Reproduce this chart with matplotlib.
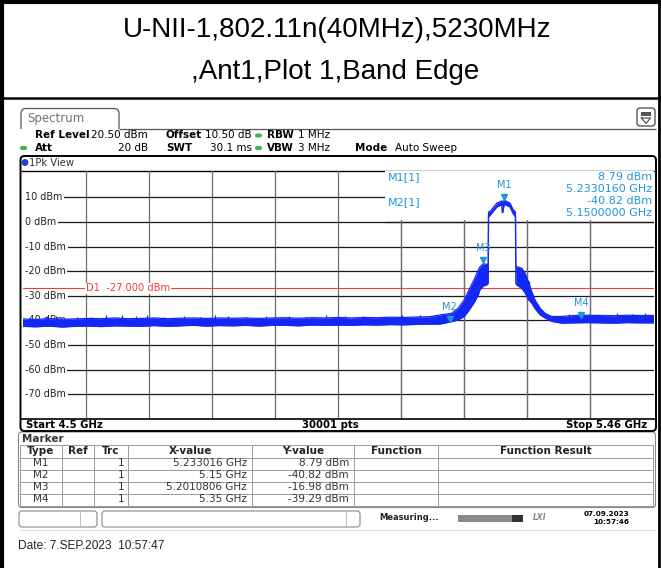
import matplotlib
matplotlib.use("Agg")
import matplotlib.pyplot as plt
from matplotlib.patches import Rectangle, FancyBboxPatch

W, H, DPI = 661, 568, 100

# ---- measurement settings -------------------------------------------------
title_lines = ["U-NII-1,802.11n(40MHz),5230MHz", ",Ant1,Plot 1,Band Edge"]
f_start, f_stop = 4.5, 5.46          # GHz
ref_level = 20.5                     # dBm (top of screen)
level_ticks = [10, 0, -10, -20, -30, -40, -50, -60, -70]
display_line = -27.0                 # D1 limit, dBm

# ---- trace envelope (max-hold peak band), GHz / dBm -----------------------
trace_freq = [4.500, 4.520, 4.540, 4.560, 4.580, 4.600, 4.620, 4.640, 4.660,
              4.680, 4.700, 4.720, 4.740, 4.760, 4.780, 4.800, 4.820, 4.840,
              4.860, 4.880, 4.900, 4.920, 4.940, 4.960, 4.980, 5.000, 5.020,
              5.040, 5.060, 5.080, 5.100, 5.120, 5.135, 5.153, 5.163, 5.172,
              5.178, 5.183, 5.188, 5.1935, 5.1961, 5.2011, 5.2062, 5.2085,
              5.2090, 5.2123, 5.2215, 5.2290, 5.2298, 5.2306, 5.2330, 5.2417,
              5.2467, 5.2500,
              5.2505, 5.2519, 5.2595, 5.2645, 5.2695, 5.2747, 5.2797, 5.2873,
              5.2949, 5.3051, 5.3203, 5.340, 5.360, 5.380, 5.400, 5.420,
              5.440, 5.460]
trace_hi = [-39.4, -39.6, -39.3, -39.5, -39.4, -39.2, -39.3, -39.0, -39.3,
            -39.2, -39.0, -39.3, -39.1, -39.0, -39.2, -39.0, -39.1, -39.0,
            -39.2, -39.0, -38.9, -39.1, -38.9, -39.0, -38.8, -39.0, -38.8,
            -38.9, -38.7, -38.8, -38.6, -38.5, -37.8, -37.1, -35.0, -31.7,
            -28.3, -25.6, -22.9, -19.5, -18.2, -16.98, -17.2, -17.5,
            4.0, 4.5, 7.6, 8.5, 7.9, 8.2, 8.79, 7.6,
            4.8, 4.0,
            -18.0, -18.2, -18.8, -20.8, -24.2, -28.3, -31.7, -35.0,
            -37.1, -38.4, -38.4, -38.0, -37.9, -38.0, -38.1, -37.9,
            -38.0, -38.0]
trace_lo = [-42.4, -42.6, -42.3, -42.7, -42.4, -42.3, -42.5, -42.2, -42.3,
            -42.4, -42.1, -42.4, -42.2, -42.0, -42.3, -42.1, -42.2, -42.0,
            -42.3, -42.0, -42.0, -42.2, -41.9, -42.0, -41.9, -42.0, -41.8,
            -41.9, -41.7, -41.8, -41.6, -41.5, -41.5, -40.5, -39.8, -38.4,
            -36.4, -34.4, -32.4, -29.6, -27.5, -26.0, -25.6, -25.0,
            2.0, 3.0, 6.0, 7.0, 3.8, 3.8, 7.2, 6.0,
            3.2, 2.0,
            -25.0, -25.6, -27.0, -28.8, -31.5, -33.0, -35.2, -37.7,
            -39.0, -40.4, -41.1, -41.0, -40.9, -41.0, -41.1, -40.9,
            -41.0, -41.0]

# isolated noise peaks rising above the band
spike_freq = [4.512, 4.538, 4.551, 4.583, 4.604, 4.627, 4.651, 4.672, 4.689,
              4.716, 4.745, 4.770, 4.793, 4.812, 4.840, 4.871, 4.905, 4.931,
              4.962, 4.991, 5.018, 5.047, 5.078, 5.104, 5.126, 5.2705,
              5.332, 5.352, 5.371, 5.405, 5.428, 5.447]
spike_top = [-38.6, -38.4, -38.3, -38.7, -38.5, -38.0, -37.6, -38.4, -37.9,
             -38.6, -38.3, -38.5, -37.7, -38.2, -38.6, -38.3, -38.1, -38.5,
             -37.9, -38.4, -38.2, -38.5, -38.0, -37.9, -37.6, -24.0,
             -37.5, -37.2, -37.6, -37.0, -37.4, -37.1]

# ---- markers ----------------------------------------------------------------
marker_names = ["M1", "M2", "M3", "M4"]
marker_freq = [5.233016, 5.15, 5.2010806, 5.35]
marker_level = [8.79, -40.82, -16.98, -39.29]
marker_xtext = ["5.233016 GHz", "5.15 GHz", "5.2010806 GHz", "5.35 GHz"]
marker_ytext = ["8.79 dBm", "-40.82 dBm", "-16.98 dBm", "-39.29 dBm"]

TRACE = "#1428f5"
MKR = "#2196d8"
GRID_V = "#6e6e6e"
GRID_H = "#1a1a1a"
SANS = "DejaVu Sans"
ARIAL = "Liberation Sans"

fig = plt.figure(figsize=(W / DPI, H / DPI), dpi=DPI)
fig.patch.set_facecolor("white")

# pixel-space canvas for the page decoration
bg = fig.add_axes([0, 0, 1, 1])
bg.set_xlim(0, W)
bg.set_ylim(H, 0)
bg.axis("off")


def txt(x, y, s, size=7.5, weight="normal", color="black", ha="left",
        family=SANS, on=None, zorder=5, **kw):
    target = bg if on is None else on
    target.text(x, y, s, fontsize=size, fontweight=weight, color=color, ha=ha,
                va="center", family=family, transform=bg.transData,
                zorder=zorder, **kw)


def hline(y, x0, x1, color="black", lw=1.0, z=2):
    bg.plot([x0, x1], [y, y], color=color, lw=lw, zorder=z,
            solid_capstyle="butt")


def vline(x, y0, y1, color="black", lw=1.0, z=2):
    bg.plot([x, x], [y0, y1], color=color, lw=lw, zorder=z,
            solid_capstyle="butt")


# outer table frame and title cell
vline(2.0, 0, H, lw=3.0)
vline(658.5, 0, H, lw=2.0)
hline(1.5, 0, W, lw=3.0)
hline(97.5, 0, W, lw=1.8)
txt(337, 30, title_lines[0], size=20, family=ARIAL, ha="center")
txt(335, 72, title_lines[1], size=20, family=ARIAL, ha="center")

# "Spectrum" tab and header rule
tab = FancyBboxPatch((21, 108.5), 98, 30, boxstyle="round,pad=0,rounding_size=5",
                     fc="white", ec="#555555", lw=0.9, zorder=3)
bg.add_patch(tab)
bg.add_patch(Rectangle((20, 128.8), 102, 12, fc="white", ec="none", zorder=4))
hline(128.5, 119, 656, color="#555555", lw=0.9, z=4)
txt(27, 118.5, "Spectrum", size=8.5, color="#707070")
icon = FancyBboxPatch((637, 108), 18, 18, boxstyle="round,pad=0,rounding_size=3",
                      fc="white", ec="#444444", lw=0.9, zorder=5)
bg.add_patch(icon)
bg.add_patch(Rectangle((641, 112), 10, 3.5, fc="#555555", ec="none", zorder=6))
bg.plot([641.5, 646, 650.5, 641.5], [118, 123.5, 118, 118], color="#444444",
        lw=0.8, zorder=6)

# setting rows
r1, r2 = 135.5, 148.0
txt(35, r1, "Ref Level", weight="bold")
txt(148, r1, "20.50 dBm", ha="right")
txt(166, r1, "Offset", weight="bold")
txt(252, r1, "10.50 dB", ha="right")
txt(267, r1, "RBW", weight="bold")
txt(298, r1, "1 MHz")
txt(35, r2, "Att", weight="bold")
txt(148, r2, "20 dB", ha="right")
txt(166, r2, "SWT", weight="bold")
txt(252, r2, "30.1 ms", ha="right")
txt(267, r2, "VBW", weight="bold")
txt(298, r2, "3 MHz")
txt(355, r2, "Mode", weight="bold")
txt(395, r2, "Auto Sweep")
for (dx, dy) in [(258.5, r1), (23.5, r2), (258.5, r2)]:
    bg.add_patch(FancyBboxPatch((dx - 3.5, dy - 2), 7, 4,
                                boxstyle="round,pad=0,rounding_size=2",
                                fc="#3cb44b", ec="none", zorder=5))

# diagram frame
frame = FancyBboxPatch((20.5, 156), 635.5, 275, boxstyle="round,pad=0,rounding_size=4",
                       fc="none", ec="black", lw=1.4, zorder=6)
bg.add_patch(frame)
hline(170.5, 20.5, 656, color="black", lw=1.0, z=6)
hline(418.5, 20.5, 656, color="black", lw=1.2, z=6)
bg.add_patch(FancyBboxPatch((22, 159.5), 6, 6, boxstyle="circle,pad=0",
                            fc="#1a3fd6", ec="#102a9a", lw=0.5, zorder=7))
txt(29, 163, "1Pk View", size=7.2, color="#333333", zorder=7)
txt(26, 424.5, "Start 4.5 GHz", weight="bold", size=7.3)
txt(330, 424.5, "30001 pts", weight="bold", size=7.3, ha="center")
txt(647, 424.5, "Stop 5.46 GHz", weight="bold", size=7.3, ha="right")

# ---- spectrum diagram -------------------------------------------------------
PX_L, PX_R, PX_T, PX_B = 22.5, 653.5, 171.4, 417.7
ax = fig.add_axes([PX_L / W, 1 - PX_B / H, (PX_R - PX_L) / W, (PX_B - PX_T) / H])
ax.set_xlim(f_start, f_stop)
ax.set_ylim(ref_level - 100, ref_level)
ax.axis("off")
ax.patch.set_alpha(0)

span = f_stop - f_start
for k in range(1, 10):
    ax.axvline(f_start + span * k / 10, color=GRID_V, lw=0.9, zorder=1)
for lv in level_ticks:
    ax.axhline(lv, color=GRID_H, lw=0.9, zorder=1)
    ax.text(f_start + span * 0.004, lv, f"{lv} dBm", fontsize=6.9, color="#222222",
            va="center", ha="left", family=SANS, zorder=2,
            bbox=dict(fc="white", ec="none", pad=1.2))

# marker readout panel (covers grid in the upper right)
ax.add_patch(Rectangle((f_start + span * 0.575, 0.8), span * 0.425, ref_level,
                       fc="white", ec="none", zorder=2))
ax.plot([f_start + span * 0.575, f_stop], [0.0, 0.0], color=GRID_H, lw=0.9,
        zorder=2.1)
for k in range(6, 10):
    ax.plot([f_start + span * k / 10] * 2, [ref_level - 100, 0.0], color=GRID_V,
            lw=0.9, zorder=2.1)

# display line D1
ax.axhline(display_line, color="#f03c3c", lw=0.8, zorder=3)
ax.text(f_start + span * 0.1, display_line, "D1  -27.000 dBm", fontsize=7.1,
        color="#f03c3c", va="center", ha="left", family=SANS, zorder=3,
        bbox=dict(fc="white", ec="none", pad=0.6))

# trace
ax.fill_between(trace_freq, trace_lo, trace_hi, color=TRACE, lw=0, zorder=4)
ax.plot(trace_freq, trace_hi, color=TRACE, lw=0.9, zorder=4)
ax.plot(trace_freq, trace_lo, color=TRACE, lw=0.9, zorder=4)
ax.vlines(spike_freq, [h - 2 for h in spike_top], spike_top, color=TRACE, lw=0.9,
          zorder=4)

# markers on trace
for name, f, lv in zip(marker_names, marker_freq, marker_level):
    ax.plot(f, lv + 1.5, marker="v", ms=5, color=MKR, mec=MKR, zorder=6)
    ax.annotate(name, xy=(f, lv), xytext=(0, 11), textcoords="offset points",
                ha="center", va="center", fontsize=7, color=MKR, family=SANS,
                zorder=6)

# readout text
txt(388, 177, "M1[1]", size=8, color=MKR, on=ax, zorder=8)
txt(388, 202, "M2[1]", size=8, color=MKR, on=ax, zorder=8)
txt(652, 177, marker_ytext[0], size=8, color=MKR, ha="right", on=ax, zorder=8)
txt(652, 189, "5.2330160 GHz", size=8, color=MKR, ha="right", on=ax, zorder=8)
txt(652, 201, marker_ytext[1], size=8, color=MKR, ha="right", on=ax, zorder=8)
txt(652, 213, "5.1500000 GHz", size=8, color=MKR, ha="right", on=ax, zorder=8)

# ---- marker table -----------------------------------------------------------
tbl = FancyBboxPatch((18.5, 432), 637, 75.5, boxstyle="round,pad=0,rounding_size=3",
                     fc="none", ec="#888888", lw=0.8, zorder=3)
bg.add_patch(tbl)
txt(22, 438.5, "Marker", weight="bold", color="#333333")
cols = [20, 62, 94, 128, 252, 354, 438, 653]
row_y = [445, 457.5, 469.5, 481.5, 493.5, 505.5]
for y in row_y:
    hline(y, 20, 653, color="#9a9a9a", lw=0.7, z=3)
for x in cols:
    vline(x, row_y[0], row_y[-1], color="#9a9a9a", lw=0.7, z=3)
heads = ["Type", "Ref", "Trc", "X-value", "Y-value", "Function", "Function Result"]
for i, h in enumerate(heads):
    txt((cols[i] + cols[i + 1]) / 2, 451.5, h, weight="bold", ha="center",
        color="#222222")
for i in range(4):
    y = (row_y[i + 1] + row_y[i + 2]) / 2
    txt(41, y, marker_names[i], ha="center", color="#333333")
    txt(124, y, "1", ha="right", color="#333333")
    txt(247, y, marker_xtext[i], ha="right", color="#333333")
    txt(349, y, marker_ytext[i], ha="right", color="#333333")

# ---- status bar -------------------------------------------------------------
for (x0, w) in [(19, 78), (102, 258)]:
    bg.add_patch(FancyBboxPatch((x0, 511), w, 16, boxstyle="round,pad=0,rounding_size=3",
                                fc="white", ec="#888888", lw=0.8, zorder=3))
vline(80, 512, 526, color="#bbbbbb", lw=0.7, z=4)
vline(346, 512, 526, color="#bbbbbb", lw=0.7, z=4)
txt(379, 518, "Measuring...", weight="bold", size=6.0, color="#222222")
bg.add_patch(Rectangle((458, 514.5), 54, 7, fc="#8a8a8a", ec="none", zorder=3))
bg.add_patch(Rectangle((512, 514.5), 11, 7, fc="#333333", ec="none", zorder=3))
txt(533, 518, "LXI", size=5.5, color="#8a8a8a", weight="bold", style="italic")
txt(629, 514, "07.09.2023", weight="bold", size=5.2, ha="right")
txt(629, 522.5, "10:57:46", weight="bold", size=5.2, ha="right")
hline(530, 20, 656, color="#dddddd", lw=0.8)

txt(18, 546, "Date: 7.SEP.2023  10:57:47", size=8.6, family=ARIAL, color="#222222")

fig.savefig("out.png", dpi=DPI, facecolor="white")
